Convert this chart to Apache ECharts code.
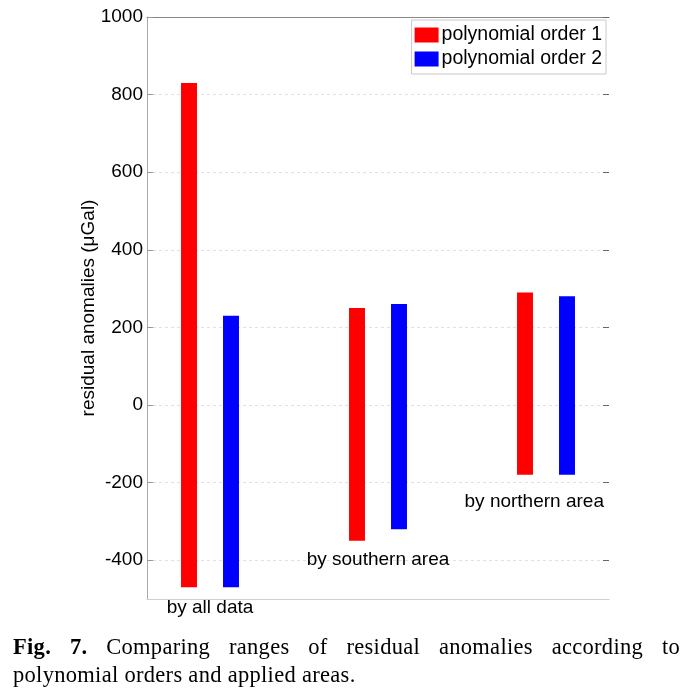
<!DOCTYPE html>
<html><head><meta charset="utf-8">
<script src="https://cdn.jsdelivr.net/npm/echarts@6/dist/echarts.min.js"></script>
<style>
html,body{margin:0;padding:0;background:#fff;}
#chart{position:absolute;left:0;top:0;width:696px;height:695px;}
.cap{position:absolute;left:13px;width:667px;font-family:'Liberation Serif','Times New Roman',serif;font-size:22.5px;line-height:20px;color:#000;letter-spacing:0.3px;}
</style></head><body>
<div id="chart"></div>
<div class="cap" style="top:637px;text-align:justify;text-align-last:justify;"><b>Fig. 7.</b> Comparing ranges of residual anomalies according to</div>
<div class="cap" style="top:665px;white-space:nowrap;">polynomial orders and applied areas.</div>
<script>
const categories = ['by all data', 'by southern area', 'by northern area'];
const seriesNames = ['polynomial order 1', 'polynomial order 2'];
const order1Low = [-470, -350, -180];
const order1High = [830, 250, 290];
const order2Low = [-470, -320, -180];
const order2High = [230, 260, 280];
const yTicks = [-400, -200, 0, 200, 400, 600, 800, 1000];
const labelX = [1, 2, 2.93];
const labelY = [-522, -400, -250];

const FONT = "Arial, 'Liberation Sans', sans-serif";
const OFFSET = 0.125, BARW = 0.095;

function rangeData(low, high) { return categories.map((c, i) => [i + 1, low[i], high[i]]); }
function renderRange(offset) {
  return function (params, api) {
    const x = api.value(0) + offset;
    const p1 = api.coord([x, api.value(1)]);
    const p2 = api.coord([x, api.value(2)]);
    const w = api.size([BARW, 0])[0];
    return { type: 'rect', shape: { x: p1[0] - w / 2, y: p2[1], width: w, height: p1[1] - p2[1] },
      style: { fill: api.visual('color') } };
  };
}

const chart = echarts.init(document.getElementById('chart'), null, { renderer: 'canvas' });
chart.setOption({
  animation: false,
  backgroundColor: '#fff',
  textStyle: { fontFamily: FONT },
  grid: { left: 147, top: 17, width: 462, height: 582 },
  legend: {
    data: seriesNames, orient: 'vertical', right: 90, top: 20,
    icon: 'rect', itemWidth: 24, itemHeight: 15, itemGap: 4,
    padding: [5, 4, 5, 3], borderColor: '#c8c8c8', borderWidth: 1, backgroundColor: '#fff',
    textStyle: { fontSize: 19.5, color: '#000', fontFamily: FONT, padding: [0, 0, 0, -2] }
  },
  xAxis: [
    { type: 'value', min: 0.625, max: 3.375, position: 'bottom',
      axisLine: { show: true, onZero: false, lineStyle: { color: '#d0d0d0' } }, axisTick: { show: false },
      axisLabel: { show: false }, splitLine: { show: false } },
    { type: 'value', min: 0.625, max: 3.375, position: 'top',
      axisLine: { show: true, onZero: false, lineStyle: { color: '#888' } }, axisTick: { show: false },
      axisLabel: { show: false }, splitLine: { show: false } }
  ],
  yAxis: [
    { type: 'value', min: -500, max: 1000, position: 'left',
      name: 'residual anomalies (\u03bcGal)', nameLocation: 'middle', nameGap: 49, nameMoveOverlap: false,
      nameTextStyle: { fontSize: 19, color: '#000', fontFamily: FONT },
      axisLine: { show: true, onZero: false, lineStyle: { color: '#aaa' } },
      axisTick: { show: true, inside: true, length: 6, lineStyle: { color: '#999' }, customValues: yTicks },
      axisLabel: { customValues: yTicks, formatter: v => String(v), fontSize: 19, color: '#000', margin: 4, fontFamily: FONT },
      splitLine: { show: true, lineStyle: { color: '#e0e0e0', type: [3, 3] } } },
    { type: 'value', min: -500, max: 1000, position: 'right',
      axisLine: { show: false },
      axisTick: { show: true, inside: true, length: 6, lineStyle: { color: '#666' }, customValues: yTicks },
      axisLabel: { show: false }, splitLine: { show: false } }
  ],
  series: [
    { name: seriesNames[0], type: 'custom', itemStyle: { color: '#ff0000' },
      encode: { x: 0, y: [1, 2] }, data: rangeData(order1Low, order1High), renderItem: renderRange(-OFFSET) },
    { name: seriesNames[1], type: 'custom', itemStyle: { color: '#0000ff' },
      encode: { x: 0, y: [1, 2] }, data: rangeData(order2Low, order2High), renderItem: renderRange(OFFSET) },
    { name: 'area labels', type: 'scatter', symbolSize: 0, clip: false, silent: true, z: 5,
      itemStyle: { opacity: 1 },
      data: labelX.map((x, i) => ({ value: [x, labelY[i]], name: categories[i] })),
      label: { show: true, position: 'inside', formatter: '{b}', fontSize: 19, color: '#000', fontFamily: FONT } }
  ]
});
</script>
</body></html>
